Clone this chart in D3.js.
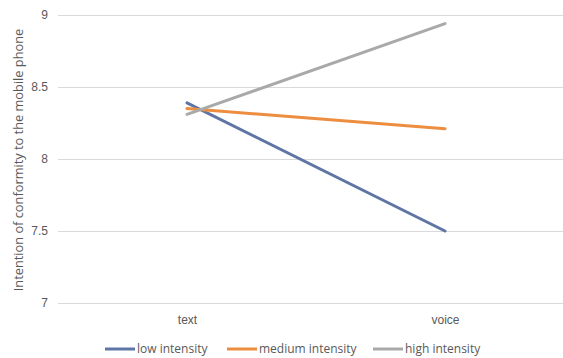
<!DOCTYPE html>
<html>
<head>
<meta charset="utf-8">
<script src="https://cdn.jsdelivr.net/npm/d3@7"></script>
<style>
  html, body { margin: 0; padding: 0; background: #fff; }
  svg { display: block; font-family: "Open Sans", "Noto Sans", sans-serif; }
</style>
</head>
<body>
<svg id="chart" width="563" height="358"></svg>
<script>
// Category axis and series values
const categories = ["text", "voice"];
const seriesNames = ["low intensity", "medium intensity", "high intensity"];
const lowIntensity = [8.39, 7.50];
const mediumIntensity = [8.35, 8.21];
const highIntensity = [8.31, 8.94];
const yTicks = [7, 7.5, 8, 8.5, 9];
const yTitle = "Intention of conformity to the mobile phone";

const seriesColors = ["#5f75a6", "#ed8d3f", "#a9a9a9"];
const series = [lowIntensity, mediumIntensity, highIntensity].map((values, i) => ({
  name: seriesNames[i], values, color: seriesColors[i]
}));

const svg = d3.select("#chart");
const plot = { left: 58, right: 563, top: 15, bottom: 303 };

const x = d3.scalePoint().domain(categories).range([187, 445]);
const y = d3.scaleLinear().domain([7, 9]).range([plot.bottom, plot.top]);

// Horizontal gridlines
svg.append("g")
  .selectAll("line")
  .data(yTicks)
  .join("line")
  .attr("x1", plot.left).attr("x2", plot.right)
  .attr("y1", d => y(d) + 0.5).attr("y2", d => y(d) + 0.5)
  .attr("stroke", "#d9d9d9").attr("stroke-width", 1);

// Y tick labels
const yAxis = svg.append("g")
  .attr("transform", `translate(${plot.left},0)`)
  .call(d3.axisLeft(y).tickValues(yTicks).tickSize(0).tickPadding(10).tickFormat(d3.format("")));
yAxis.select(".domain").remove();
yAxis.selectAll("text")
  .attr("fill", "#595959").attr("font-size", 12);

// X tick labels
const xAxis = svg.append("g")
  .attr("transform", `translate(0,${plot.bottom})`)
  .call(d3.axisBottom(x).tickSize(0).tickPadding(12));
xAxis.select(".domain").remove();
xAxis.selectAll("text")
  .attr("fill", "#595959").attr("font-size", 12);

// Y axis title
svg.append("text")
  .attr("transform", `translate(23,${(plot.top + plot.bottom) / 2 + 1}) rotate(-90)`)
  .attr("text-anchor", "middle")
  .attr("fill", "#595959").attr("font-size", 12.8)
  .text(yTitle);

// Series lines
const line = d3.line()
  .x((d, i) => x(categories[i]))
  .y(d => y(d));

svg.append("g")
  .selectAll("path")
  .data(series)
  .join("path")
  .attr("d", d => line(d.values))
  .attr("fill", "none")
  .attr("stroke", d => d.color)
  .attr("stroke-width", 3)
  .attr("stroke-linecap", "round");

// Legend
const legendStarts = [105, 227, 373];
const legend = svg.append("g")
  .selectAll("g")
  .data(series)
  .join("g")
  .attr("transform", (d, i) => `translate(${legendStarts[i]},349)`);
legend.append("line")
  .attr("x1", 0).attr("x2", 30)
  .attr("stroke", d => d.color).attr("stroke-width", 3);
legend.append("text")
  .attr("x", 32).attr("dy", "0.35em")
  .attr("fill", "#595959").attr("font-size", 12)
  .text(d => d.name);
</script>
</body>
</html>
